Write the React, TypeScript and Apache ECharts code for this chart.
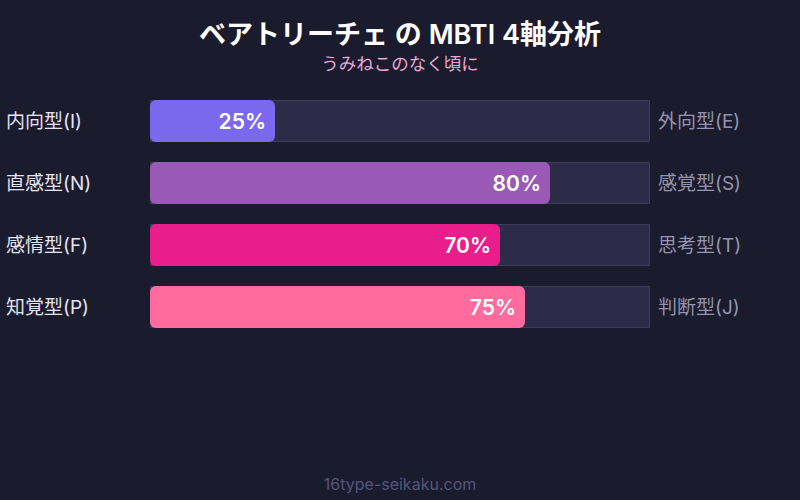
import React, { useEffect, useRef } from "react";
import * as echarts from "echarts";

const leftLabels = ["内向型(I)", "直感型(N)", "感情型(F)", "知覚型(P)"];
const rightLabels = ["外向型(E)", "感覚型(S)", "思考型(T)", "判断型(J)"];
const values = [25, 80, 70, 75];
const colors = ["#7b68ee", "#9b59b6", "#e91e8c", "#ff6b9d"];
const trackMax = [100, 100, 100, 100];

const FONT = "Inter, 'Noto Sans CJK JP', sans-serif";

const App = () => {
  const chartRef = useRef<HTMLDivElement>(null);

  useEffect(() => {
    if (!chartRef.current) return;
    document.body.style.margin = "0";
    const chart = echarts.init(chartRef.current, null, { renderer: "svg" });

    chart.setOption({
      animation: false,
      backgroundColor: "#1b1b2e",
      title: [
        {
          text: "ベアトリーチェ の MBTI 4軸分析",
          left: "center",
          top: 16,
          textStyle: { color: "#ffffff", fontSize: 27, fontWeight: 600, fontFamily: FONT },
        },
        {
          text: "うみねこのなく頃に",
          left: "center",
          top: 50,
          textStyle: { color: "#e8a8d8", fontSize: 17.5, fontWeight: "normal", fontFamily: FONT },
        },
        {
          text: "16type-seikaku.com",
          left: "center",
          top: 471,
          textStyle: { color: "#55557a", fontSize: 16, fontWeight: "normal", fontFamily: FONT },
        },
      ],
      grid: { left: 150, width: 500, top: 90, height: 248 },
      xAxis: { type: "value", min: 0, max: 100, show: false },
      yAxis: [
        {
          type: "category",
          data: leftLabels,
          inverse: true,
          position: "left",
          axisLine: { show: false },
          axisTick: { show: false },
          axisLabel: {
            color: "#e4e4f2",
            fontSize: 19,
            fontFamily: FONT,
            align: "left",
            margin: 144,
          },
        },
        {
          type: "category",
          data: rightLabels,
          inverse: true,
          position: "right",
          axisLine: { show: false },
          axisTick: { show: false },
          axisLabel: { color: "#9494ac", fontSize: 19, fontFamily: FONT, margin: 8 },
        },
      ],
      series: [
        {
          type: "bar",
          data: trackMax,
          barWidth: 42,
          barGap: "-100%",
          silent: true,
          itemStyle: { color: "#2d2b48", borderColor: "#3e3d5e", borderWidth: 1 },
        },
        {
          type: "bar",
          data: values.map((v, i) => ({ value: v, itemStyle: { color: colors[i] } })),
          barWidth: 42,
          itemStyle: { borderRadius: 6 },
          label: {
            show: true,
            position: "insideRight",
            distance: 9,
            formatter: "{c}%",
            color: "#ffffff",
            fontSize: 21,
            fontWeight: 600,
            fontFamily: FONT,
          },
        },
      ],
    });

    return () => chart.dispose();
  }, []);

  return <div ref={chartRef} style={{ width: 800, height: 500 }} />;
};

export default App;
